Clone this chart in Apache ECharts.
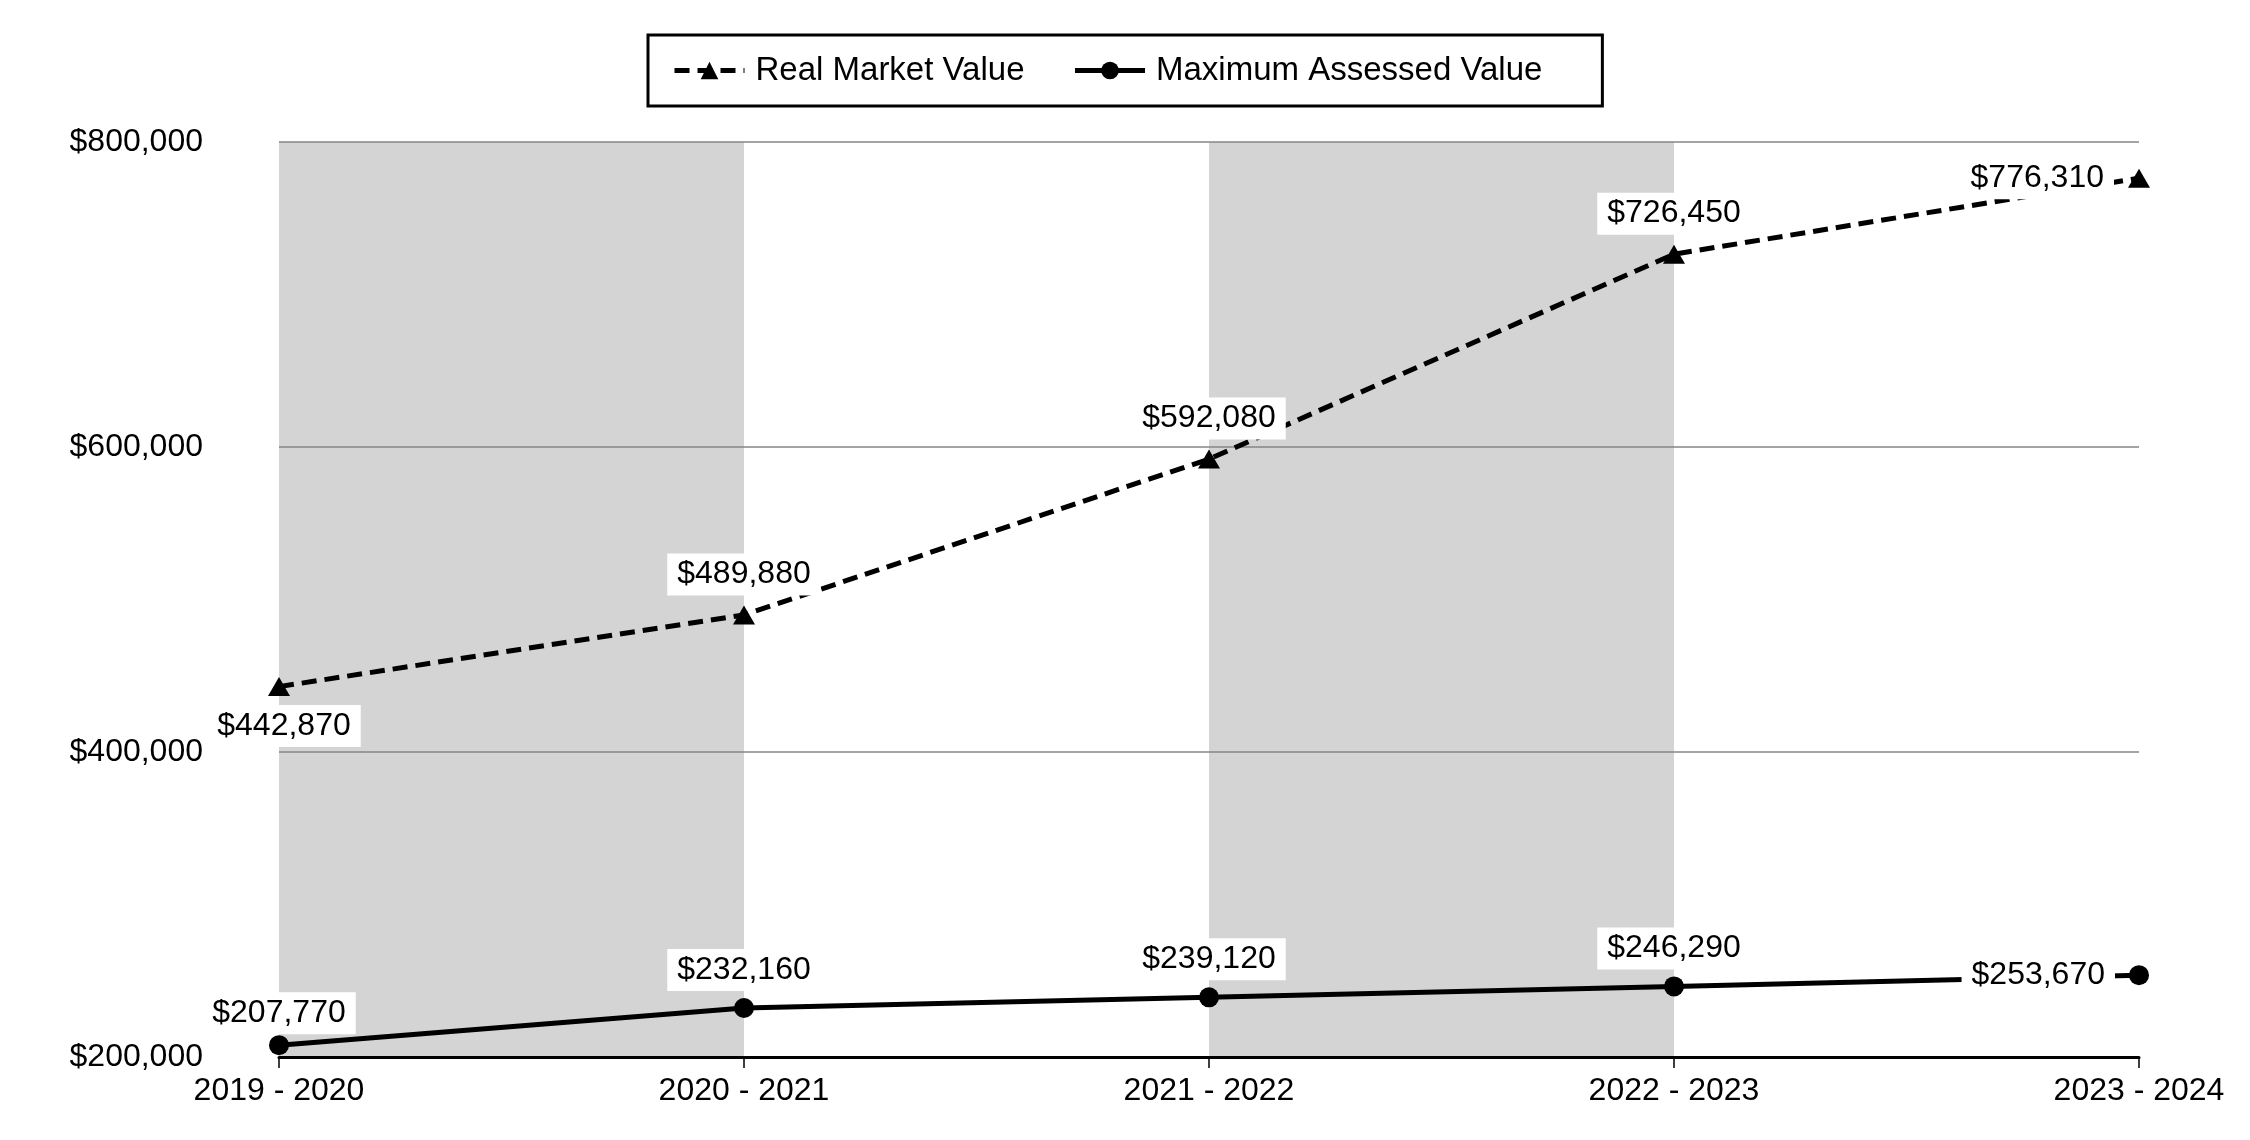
<!DOCTYPE html>
<html>
<head>
<meta charset="utf-8">
<script src="https://cdn.jsdelivr.net/npm/echarts@6/dist/echarts.min.js"></script>
<style>
html,body{margin:0;padding:0;background:#fff;}
#chart{width:2250px;height:1140px;}
</style>
</head>
<body>
<div id="chart"></div>
<script>
const categories = ['2019 - 2020', '2020 - 2021', '2021 - 2022', '2022 - 2023', '2023 - 2024'];
const realMarketValue = [442870, 489880, 592080, 726450, 776310];
const maxAssessedValue = [207770, 232160, 239120, 246290, 253670];
const yTicks = { min: 200000, max: 800000, interval: 200000 };

const FONT = '"Liberation Sans", Arial, sans-serif';
const fmt = v => '$' + v.toLocaleString('en-US');

function labelFor(seriesKey, i, n) {
  const base = {
    show: true, color: '#000', fontFamily: FONT, fontSize: 32,
    backgroundColor: '#fff', padding: [5, 10, 5, 10], lineHeight: 32,
    formatter: p => fmt(p.value)
  };
  if (i === n - 1) return Object.assign(base, { position: 'left', distance: 14 });
  if (seriesKey === 'rmv' && i === 0) return Object.assign(base, { position: 'bottom', distance: 9, offset: [5, 0] });
  if (seriesKey === 'mav' && i === 0) return Object.assign(base, { position: 'top', distance: 1 });
  return Object.assign(base, { position: 'top', distance: seriesKey === 'rmv' ? 10 : 7 });
}

function buildData(values, key) {
  return values.map((v, i) => ({ value: v, label: labelFor(key, i, values.length) }));
}

const chart = echarts.init(document.getElementById('chart'), null, { renderer: 'canvas' });
chart.setOption({
  animation: false,
  backgroundColor: '#fff',
  textStyle: { fontFamily: FONT },
  legend: {
    left: 648, top: 35,
    padding: [19, 60, 19, 24],
    borderColor: '#000', borderWidth: 3,
    itemWidth: 70, itemHeight: 22, itemGap: 48,
    lineStyle: { width: 5 },
    textStyle: { fontFamily: FONT, fontSize: 33, color: '#000', padding: [0, 0, 0, 6] },
    data: ['Real Market Value', 'Maximum Assessed Value']
  },
  grid: { left: 279, right: 111, top: 142, bottom: 83, containLabel: false },
  xAxis: {
    type: 'category',
    data: categories,
    boundaryGap: false,
    z: 0,
    axisLine: { show: true, lineStyle: { color: '#000', width: 3 } },
    axisTick: { show: true, length: 11, lineStyle: { color: '#000', width: 1.5 } },
    axisLabel: { color: '#000', fontFamily: FONT, fontSize: 32, margin: 18, showMaxLabel: true },
    splitLine: { show: false },
    splitArea: { show: true, areaStyle: { color: ['#d4d4d4', '#ffffff'] } }
  },
  yAxis: {
    type: 'value',
    min: yTicks.min, max: yTicks.max, interval: yTicks.interval,
    z: 1,
    axisLine: { show: false },
    axisTick: { show: false },
    axisLabel: { color: '#000', fontFamily: FONT, fontSize: 32, margin: 76, formatter: v => fmt(v) },
    splitLine: { show: true, showMinLine: false, lineStyle: { color: '#868686', width: 1.5 } }
  },
  series: [
    {
      name: 'Real Market Value',
      type: 'line',
      data: buildData(realMarketValue, 'rmv'),
      symbol: 'triangle', symbolSize: [22, 19],
      itemStyle: { color: '#000' },
      lineStyle: { color: '#000', width: 5, type: [15, 8] },
      z: 3
    },
    {
      name: 'Maximum Assessed Value',
      type: 'line',
      data: buildData(maxAssessedValue, 'mav'),
      symbol: 'circle', symbolSize: 20,
      itemStyle: { color: '#000' },
      lineStyle: { color: '#000', width: 5, type: 'solid' },
      z: 3
    }
  ]
});
</script>
</body>
</html>
